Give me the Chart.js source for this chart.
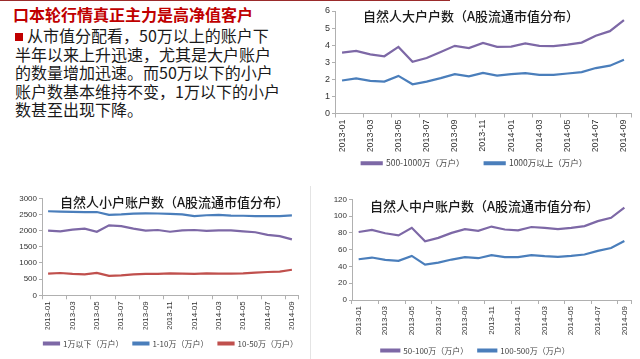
<!DOCTYPE html>
<html>
<head>
<meta charset="utf-8">
<script src="https://cdn.jsdelivr.net/npm/chart.js@4.4.1/dist/chart.umd.min.js"></script>
<style>
body{margin:0;background:#fff;width:640px;height:359px;overflow:hidden;position:relative;font-family:"Noto Sans CJK SC",sans-serif}
.box{position:absolute}
#topline{position:absolute;left:0;top:0;width:450px;height:1px;background:#9b2b2b}
#vline{position:absolute;left:310px;top:186px;width:1px;height:173px;background:#e4e4e4}
#head{position:absolute;left:13px;top:4px;font-size:16px;font-weight:bold;color:#c00000;white-space:nowrap;line-height:20px}
#body{position:absolute;left:15px;top:26px;font-size:16px;color:#1a1a1a;line-height:18.5px;white-space:nowrap}
#body .sq{display:inline-block;width:8px;height:8px;background:#c00000;margin-right:4px;vertical-align:1px}
</style>
</head>
<body>
<div id="topline"></div>
<div id="vline"></div>
<div id="head">口本轮行情真正主力是高净值客户</div>
<div id="body">
<div><span class="sq"></span>从市值分配看，50万以上的账户下</div>
<div>半年以来上升迅速，尤其是大户账户</div>
<div>的数量增加迅速。而50万以下的小户</div>
<div>账户数基本维持不变，1万以下的小户</div>
<div>数甚至出现下降。</div>
</div>
<div class="box" style="left:318px;top:0;width:322px;height:180px"><canvas id="cBig"></canvas></div>
<div class="box" style="left:0;top:185px;width:308px;height:174px"><canvas id="cSmall"></canvas></div>
<div class="box" style="left:320px;top:185px;width:320px;height:182px"><canvas id="cMid"></canvas></div>
<script>
const months = ['2013-01','2013-02','2013-03','2013-04','2013-05','2013-06','2013-07','2013-08','2013-09','2013-10','2013-11','2013-12',
  '2014-01','2014-02','2014-03','2014-04','2014-05','2014-06','2014-07','2014-08','2014-09'];

// 大户 (万户)
const big500 = [3.56,3.66,3.46,3.35,3.9,3.03,3.25,3.6,3.96,3.83,4.13,3.9,3.92,4.1,3.96,3.94,4.03,4.15,4.55,4.82,5.47];
const big1000 = [1.93,2.05,1.91,1.87,2.2,1.71,1.87,2.07,2.3,2.17,2.38,2.22,2.3,2.36,2.26,2.26,2.34,2.42,2.66,2.8,3.15];

// 小户 (万户)
const small1 = [2000,1975,2030,2060,1965,2165,2140,2060,2000,2020,1965,2005,2020,1990,2005,2005,1980,1950,1870,1830,1730];
const small10 = [2600,2590,2580,2570,2575,2490,2500,2525,2535,2530,2520,2505,2450,2475,2490,2465,2460,2450,2450,2450,2470];
const small50 = [670,690,660,645,690,600,615,645,665,665,680,670,665,680,670,670,680,700,720,730,790];

// 中户 (万户)
const mid100 = [81,83.5,79.5,77,86,70,74,80,84.5,82.5,87.5,84,83,87,86,84.5,86,88,94,98,110];
const mid500 = [48.6,50.6,47.8,46.6,52.6,42.2,44.6,48.2,51,49.8,53.4,51,51,53.4,52.2,51.4,52.6,54.2,58.6,62,70.3];

const PURPLE = '#7d68a6', BLUE = '#4a7ebb', RED = '#c0504d';

const innerTitle = {
  id: 'innerTitle',
  afterDraw(chart, args, opts) {
    const c = chart.ctx;
    c.save();
    c.font = '500 13px "Noto Sans CJK SC"';
    c.fillStyle = '#1a1a1a';
    c.textBaseline = 'middle';
    c.fillText(opts.text, opts.x, opts.y);
    c.restore();
  }
};

// nudge the legend sideways, the way it sits in the original
const legendShift = {
  id: 'legendShift',
  afterLayout(chart, args, opts) {
    if (!opts.dx || !chart.legend) return;
    chart.legend.left += opts.dx;
    chart.legend.right += opts.dx;
  }
};

function makeChart(id, cfg) {
  const tickFont = {family: '"Liberation Sans", Arial, sans-serif', size: cfg.font};
  new Chart(document.getElementById(id), {
    type: 'line',
    data: {
      labels: months,
      datasets: cfg.series.map((s, i) => ({
        label: s.label + (i < cfg.series.length - 1 ? cfg.gap : ''),
        data: s.data, borderColor: s.color, backgroundColor: s.color,
        borderWidth: 2.2, pointRadius: 0, tension: 0
      }))
    },
    plugins: [innerTitle, legendShift],
    options: {
      responsive: true, maintainAspectRatio: false, animation: false,
      layout: {padding: cfg.pad},
      plugins: {
        legend: {
          position: 'bottom',
          labels: {boxWidth: cfg.box, boxHeight: 2, padding: cfg.lp, color: '#444',
            font: {family: '"Noto Sans CJK SC"', size: cfg.lfont}}
        },
        tooltip: {enabled: false},
        innerTitle: {text: cfg.title, x: cfg.tx, y: cfg.ty},
        legendShift: {dx: cfg.dx}
      },
      scales: {
        x: {
          offset: true,
          border: {color: '#b0b0b0'},
          grid: {drawOnChartArea: false, tickLength: 4, offset: true,
            color: ctx => ctx.index % 2 ? 'rgba(0,0,0,0)' : '#b0b0b0'},
          ticks: {autoSkip: false, minRotation: 90, maxRotation: 90, padding: 2, color: '#333', font: tickFont,
            callback: (v, i) => i % 2 ? '' : months[i]},
          afterFit: s => { s.height = cfg.xh; }
        },
        y: {
          min: 0, max: cfg.max,
          border: {color: '#b0b0b0'},
          grid: {drawOnChartArea: false, tickLength: 3, color: '#b0b0b0'},
          ticks: {stepSize: cfg.step, padding: 2, color: '#333', font: tickFont, callback: v => String(v)},
          afterFit: s => { s.width = cfg.yw; }
        }
      }
    }
  });
}

makeChart('cBig', {
  title: '自然人大户户数（A股流通市值分布）', tx: 45, ty: 16,
  series: [{label: '500-1000万（万户）', data: big500, color: PURPLE},
           {label: '1000万以上（万户）', data: big1000, color: BLUE}],
  max: 6, step: 1, font: 9, lfont: 8.5, box: 20, lp: 7.5, gap: '\u3000\u3000', dx: 0,
  pad: {top: 11, right: 9, bottom: 2.5, left: 0}, yw: 17, xh: 38
});

makeChart('cSmall', {
  title: '自然人小户账户数（A股流通市值分布）', tx: 60, ty: 17.5,
  series: [{label: '1万以下（万户）', data: small1, color: PURPLE},
           {label: '1-10万（万户）', data: small10, color: BLUE},
           {label: '10-50万（万户）', data: small50, color: RED}],
  max: 3000, step: 500, font: 8, lfont: 8, box: 15, lp: 10, gap: '', dx: 22,
  pad: {top: 13.3, right: 10, bottom: 1.5, left: 0}, yw: 42, xh: 34.2
});

makeChart('cMid', {
  title: '自然人中户账户数（A股流通市值分布）', tx: 50, ty: 21,
  series: [{label: '50-100万（万户）', data: mid100, color: PURPLE},
           {label: '100-500万（万户）', data: mid500, color: BLUE}],
  max: 120, step: 20, font: 8, lfont: 8, box: 18, lp: 10, gap: '', dx: 0,
  pad: {top: 14.3, right: 9, bottom: 2.5, left: 0}, yw: 32, xh: 36.5
});
</script>
</body>
</html>
